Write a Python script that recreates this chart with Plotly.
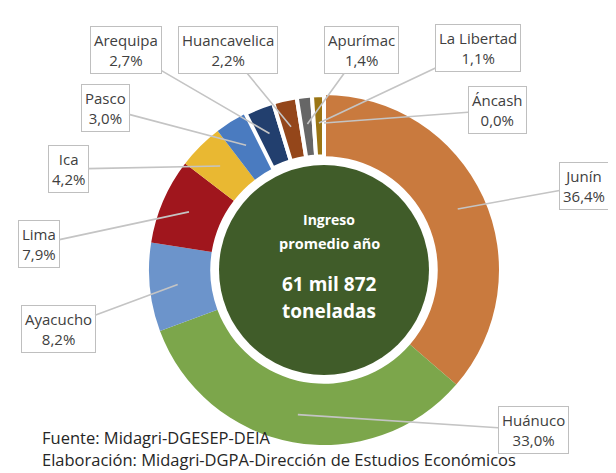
import math
import plotly.graph_objects as go

# Ingreso de papa por departamento de origen (participación %)
regiones = ['Junín', 'Huánuco', 'Ayacucho', 'Lima', 'Ica', 'Pasco',
            'Arequipa', 'Huancavelica', 'Apurímac', 'La Libertad', 'Áncash']
participacion = [36.4, 33.0, 8.2, 7.9, 4.2, 3.0, 2.7, 2.2, 1.4, 1.1, 0.0]
colores = ['#C97A3E', '#7CA64B', '#6C94CB', '#A0161D', '#E9B832', '#4A7BC0',
           '#223F6E', '#94461A', '#666666', '#9A7514', '#7F7F7F']
bordes = [0, 0, 0, 0, 0, 0, 4, 4, 4, 4, 0]

W, H = 616, 473
cx, cy, R = 316, 262, 175      # pixel centre and outer radius of the ring
r_centro = 105

# where each callout box sits (pixel centre)
pos_etiqueta = [(576, 178), (525, 422), (50, 321), (31, 236), (60, 161), (97, 100),
                (118, 42), (220, 42), (353, 42), (470, 40), (489, 102)]

fig = go.Figure()

fig.add_trace(go.Pie(
    labels=regiones, values=participacion, sort=False, direction='clockwise',
    rotation=0, hole=0.65, textinfo='none', hoverinfo='label+percent',
    marker=dict(colors=colores, line=dict(color='white', width=bordes)),
    domain=dict(x=[(cx - R) / W, (cx + R) / W], y=[(H - cy - R) / H, (H - cy + R) / H]),
    showlegend=False))

fig.add_trace(go.Pie(
    labels=['Total'], values=[1], textinfo='none', hoverinfo='skip',
    marker=dict(colors=['#405C29']),
    domain=dict(x=[(cx - r_centro) / W, (cx + r_centro) / W],
                y=[(H - cy - r_centro) / H, (H - cy + r_centro) / H]),
    showlegend=False))

total = sum(participacion)
acum = 0
anot = []
for reg, v, (lx, ly) in zip(regiones, participacion, pos_etiqueta):
    th = math.radians(360 * (acum + v / 2) / total)
    acum += v
    tx = cx + 0.84 * R * math.sin(th)
    ty = cy - 0.84 * R * math.cos(th)
    texto = reg + '<br>' + ('%.1f' % v).replace('.', ',') + '%'
    anot.append(dict(
        x=tx / W, y=1 - ty / H, xref='paper', yref='paper',
        ax=lx - tx, ay=ly - ty, axref='pixel', ayref='pixel',
        text=texto, showarrow=True, arrowhead=0, arrowwidth=1.6,
        arrowcolor='#C4C4C4', standoff=0,
        bordercolor='#BFBFBF', borderwidth=1, borderpad=3, bgcolor='white',
        font=dict(size=15, color='#404040')))

centro = [('Ingreso', 212, 14), ('promedio año', 235, 14.5),
          ('61 mil 872', 276, 19), ('toneladas', 303, 19)]
for t, yy, sz in centro:
    anot.append(dict(x=321 / W, y=1 - yy / H, xref='paper', yref='paper',
                     text='<b>' + t + '</b>', showarrow=False,
                     font=dict(size=sz, color='white')))

fuente = [('Fuente: Midagri-DGESEP-DEIA', 443),
          ('Elaboración: Midagri-DGPA-Dirección de Estudios Económicos', 465)]
for t, yy in fuente:
    anot.append(dict(x=32 / W, y=1 - yy / H, xref='paper', yref='paper',
                     xanchor='left', text=t, showarrow=False,
                     font=dict(size=16.5, color='#262626')))

fig.update_layout(width=W, height=H, margin=dict(l=0, r=0, t=0, b=0),
                  paper_bgcolor='white', plot_bgcolor='white',
                  font=dict(family='Open Sans'), annotations=anot)

fig.write_html('out.html')
